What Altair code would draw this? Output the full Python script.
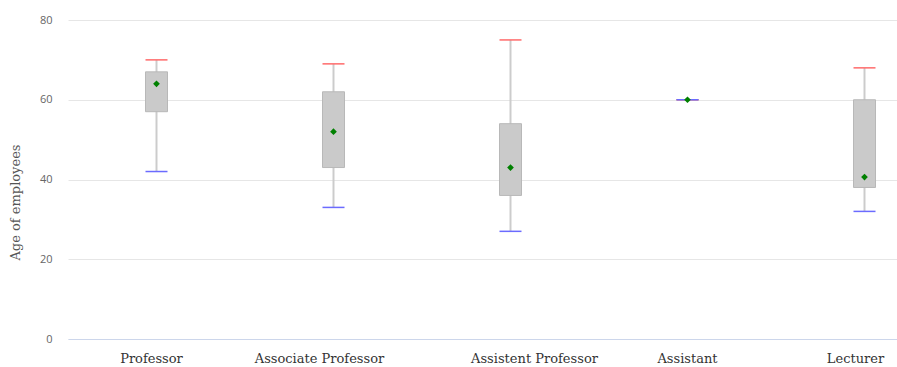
import altair as alt
import pandas as pd

# Age distribution of staff by academic rank
categories = ["Professor", "Associate Professor", "Assistent Professor", "Assistant", "Lecturer"]
age_min = [42, 33, 27, 60, 32]
age_q1 = [57, 43, 36, 60, 38]
age_q3 = [67, 62, 54, 60, 60]
age_max = [70, 69, 75, 60, 68]
age_mean = [64, 52, 43, 60, 40.6]

df = pd.DataFrame({
    "rank": categories,
    "min": age_min,
    "q1": age_q1,
    "q3": age_q3,
    "max": age_max,
    "mean": age_mean,
})

# small horizontal nudges for the category labels
label_shift = {
    "condition": [
        {"test": "datum.value === 'Professor'", "value": -5},
        {"test": "datum.value === 'Associate Professor'", "value": -14},
        {"test": "datum.value === 'Assistent Professor'", "value": 24},
        {"test": "datum.value === 'Lecturer'", "value": -9},
    ],
    "value": 0,
}

x = alt.X(
    "rank:N",
    sort=categories,
    scale=alt.Scale(range=[0, 885], paddingInner=0, paddingOuter=0),
    axis=alt.Axis(
        title=None,
        labelAngle=0,
        ticks=False,
        grid=False,
        domainColor="#ccd6eb",
        domainWidth=1,
        labelFont="DejaVu Serif",
        labelFontSize=13,
        labelColor="#333333",
        labelPadding=13,
        labelOffset=label_shift,
    ),
)

y_scale = alt.Scale(domain=[0, 80])
y_axis = alt.Axis(
    title="Age of employees",
    values=[0, 20, 40, 60, 80],
    domain=False,
    ticks=False,
    gridColor="#e6e6e6",
    labelColor="#666666",
    labelFont="Open Sans",
    labelFontSize=11,
    labelPadding=16,
    titleFont="DejaVu Serif",
    titleFontSize=13,
    titleFontWeight="normal",
    titleColor="#555555",
    titleX=-46,
    titleY=182,
)

base = alt.Chart(df).encode(x=x)

stem = base.mark_rule(color="#cccccc", strokeWidth=2).encode(
    y=alt.Y("min:Q", scale=y_scale, axis=y_axis), y2="max:Q"
)
box = base.mark_bar(size=22, color="#cacaca", stroke="#b8b8b8", strokeWidth=1).encode(
    y=alt.Y("q1:Q", scale=y_scale), y2="q3:Q"
)
cap_max = base.mark_tick(size=22, thickness=1.5, color="#ff6b6b", opacity=1).encode(
    y=alt.Y("max:Q", scale=y_scale)
)
cap_min = base.mark_tick(size=22, thickness=1.5, color="#6b6bff", opacity=1).encode(
    y=alt.Y("min:Q", scale=y_scale)
)
mean_pt = base.mark_point(shape="diamond", filled=True, size=45, color="#008000", opacity=1).encode(
    y=alt.Y("mean:Q", scale=y_scale)
)

chart = (
    alt.layer(stem, box, cap_max, cap_min, mean_pt)
    .properties(
        width=829,
        height=319,
        autosize=alt.AutoSizeParams(type="none"),
        padding={"left": 68, "top": 20, "right": 0, "bottom": 28},
    )
    .configure_view(stroke=None)
)

chart.save("out.html", embed_options={"renderer": "svg", "actions": False})
